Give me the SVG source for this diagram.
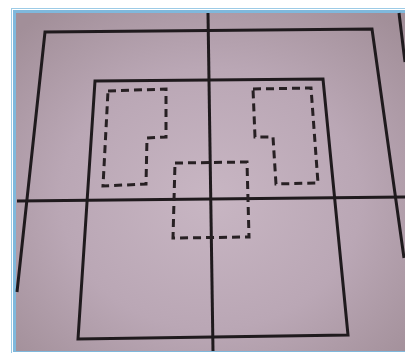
<svg xmlns="http://www.w3.org/2000/svg" width="405" height="353" viewBox="0 0 405 353">
<defs>
<radialGradient id="paper" cx="0.5" cy="0.55" r="0.7">
<stop offset="0" stop-color="#c8b6c3"/>
<stop offset="0.55" stop-color="#baa7b5"/>
<stop offset="1" stop-color="#a28f99"/>
</radialGradient>
<style>
.s{fill:none;stroke:#1f1a1d;stroke-width:3;stroke-linejoin:miter}
.d{fill:none;stroke:#272023;stroke-width:3;stroke-dasharray:8 5}
</style>
</defs>
<rect width="405" height="353" fill="#ffffff"/>
<rect x="11.5" y="8.5" width="400" height="350" fill="none" stroke="#9ccbe6" stroke-width="1"/>
<rect x="13" y="10" width="392" height="342" fill="#7fb8dc"/>
<rect x="16" y="13" width="389" height="338" fill="url(#paper)"/>
<g id="outer-square">
<polyline class="s" points="17,292 45,32 372,29 404,258"/>
<line class="s" x1="399" y1="13" x2="405" y2="62"/>
</g>
<g id="inner-square">
<polygon class="s" points="95,81 323,79 348,335 78,339"/>
</g>
<g id="axes">
<line class="s" x1="17" y1="201" x2="405" y2="197"/>
<line class="s" x1="208" y1="13" x2="213" y2="351"/>
</g>
<g id="left-dashed">
<polygon class="d" points="108,91 166,89 166,137 147,138 146,184 103,186"/>
</g>
<g id="right-dashed">
<polygon class="d" points="253,89 311,88 318,183 276,184 273,137 255,137"/>
</g>
<g id="center-dashed">
<polygon class="d" points="175,163 247,162 249,237 173,238"/>
</g>
</svg>
